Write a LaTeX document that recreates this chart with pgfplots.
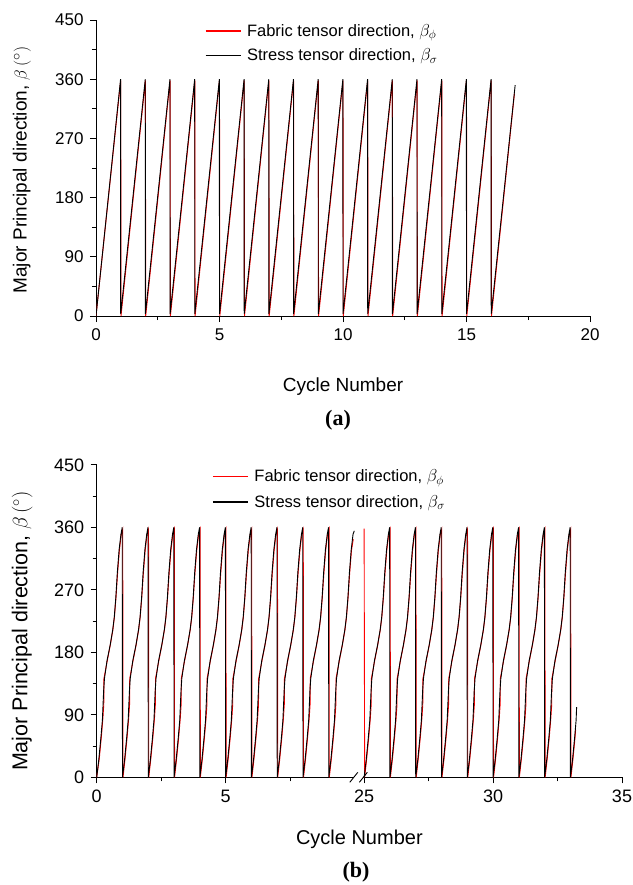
\documentclass[border=0pt]{standalone}
\usepackage{fontspec}
\setmainfont{Liberation Sans}
\newfontfamily\serifbf{Liberation Serif}
\usepackage{pgfplots}
\pgfplotsset{compat=1.18}
\pgfplotsset{
  common/.style={
    scale only axis,
    axis x line=bottom, axis y line=left,
    axis line style={-, line width=0.9pt, black},
    tick align=outside,
    major tick length=6pt, minor tick length=4pt,
    every tick/.style={line width=0.9pt, black},
    ymin=0, ymax=450,
    ytick={0,90,180,270,360,450},
    minor ytick={45,135,225,315,405},
    /pgf/number format/assume math mode=true,
    legend cell align=left,
    legend image code/.code={\draw[##1, line width=1.3pt] (0pt,0pt) -- (35pt,0pt); \path (39pt,0pt);},
  },
}
\begin{document}
\begin{tikzpicture}
\useasboundingbox (0pt,0pt) rectangle (632pt,-885pt);
% ---------------- panel (a)
\begin{axis}[common,
  at={(96pt,-316pt)}, anchor=south west,
  width=494pt, height=296pt,
  xmin=0, xmax=20,
  xtick={0,5,10,15,20}, minor xtick={2.5,7.5,12.5,17.5},
  tick label style={font=\fontsize{17}{19}\selectfont},
  yticklabel style={xshift=-3pt},
  xticklabel style={yshift=-3pt},
  xlabel={Cycle Number},
  ylabel={Major Principal direction, $\beta\,(^\circ)$},
  label style={font=\fontsize{19}{22}\selectfont},
  xlabel style={at={(axis description cs:0.5,-0.239)}, anchor=center},
  ylabel style={at={(axis description cs:-0.15,0.493)}, anchor=center},
  legend style={draw=none, fill=none, at={(axis description cs:0.214,1.0)}, anchor=north west,
    font=\fontsize{16.5}{19}\selectfont, row sep=7pt},
]
\addplot[red, line width=0.9pt] coordinates {
(0,0) (1.0,358) (1.012,0) (2.0,358) (2.012,0) (3.0,358) (3.012,0) (4.0,358) (4.012,0) (5.0,358)
(5.012,0) (6.0,358) (6.012,0) (7.0,358) (7.012,0) (8.0,358) (8.012,0) (9.0,358) (9.012,0) (10.0,358)
(10.012,0) (11.0,358) (11.012,0) (12.0,358) (12.012,0) (13.0,358) (13.012,0) (14.0,358) (14.012,0) (15.0,358)
(15.012,0) (16.0,358) (16.012,0) (16.94,338)
};
\addlegendentry{Fabric tensor direction, $\beta_{\phi}$}
\addplot[black, line width=0.9pt] coordinates {
(0,0) (0.995,360) (1,3) (1.995,360) (2,3) (2.995,360) (3,3) (3.995,360) (4,3) (4.995,360)
(5,3) (5.995,360) (6,3) (6.995,360) (7,3) (7.995,360) (8,3) (8.995,360) (9,3) (9.995,360)
(10,3) (10.995,360) (11,3) (11.995,360) (12,3) (12.995,360) (13,3) (13.995,360) (14,3) (14.995,360)
(15,3) (15.995,360) (16,3) (16.97,351)
};
\addlegendentry{Stress tensor direction, $\beta_{\sigma}$}
\end{axis}
% ---------------- panel (b)
\begin{axis}[common,
  at={(96.7pt,-777.3pt)}, anchor=south west,
  width=525.3pt, height=312.5pt,
  xmin=0, xmax=20.37,
  xtick={0,5,10.37,15.37,20.37}, xticklabels={0,5,25,30,35},
  minor xtick={2.5,7.5,12.87,17.87},
  tick label style={font=\fontsize{18}{20}\selectfont},
  yticklabel style={xshift=-3pt},
  xticklabel style={yshift=-3pt},
  xlabel={Cycle Number},
  ylabel={Major Principal direction, $\beta\,(^\circ)$},
  xlabel style={font=\fontsize{20}{23}\selectfont, at={(axis description cs:0.5,-0.2)}, anchor=center},
  ylabel style={font=\fontsize{21.5}{24}\selectfont, at={(axis description cs:-0.142,0.468)}, anchor=center},
  legend style={draw=none, fill=none, at={(axis description cs:0.214,0.998)}, anchor=north west,
    font=\fontsize{16.5}{19}\selectfont, row sep=8pt},
]
\addplot[red, line width=0.9pt] coordinates {
(0,0) (0.1,27) (0.18,58) (0.24,85) (0.275,105) (0.28,142) (0.32,150) (0.41,168) (0.53,191) (0.63,213) (0.69,232) (0.75,260) (0.81,294) (0.88,327) (0.95,349) (1.01,357)
(1.02,0) (1.1,27) (1.18,58) (1.24,85) (1.275,105) (1.28,142) (1.32,150) (1.41,168) (1.53,191) (1.63,213) (1.69,232) (1.75,260) (1.81,294) (1.88,327) (1.95,349) (2.01,357)
(2.02,0) (2.1,27) (2.18,58) (2.24,85) (2.275,105) (2.28,142) (2.32,150) (2.41,168) (2.53,191) (2.63,213) (2.69,232) (2.75,260) (2.81,294) (2.88,327) (2.95,349) (3.01,357)
(3.02,0) (3.1,27) (3.18,58) (3.24,85) (3.275,105) (3.28,142) (3.32,150) (3.41,168) (3.53,191) (3.63,213) (3.69,232) (3.75,260) (3.81,294) (3.88,327) (3.95,349) (4.01,357)
(4.02,0) (4.1,27) (4.18,58) (4.24,85) (4.275,105) (4.28,142) (4.32,150) (4.41,168) (4.53,191) (4.63,213) (4.69,232) (4.75,260) (4.81,294) (4.88,327) (4.95,349) (5.01,357)
(5.02,0) (5.1,27) (5.18,58) (5.24,85) (5.275,105) (5.28,142) (5.32,150) (5.41,168) (5.53,191) (5.63,213) (5.69,232) (5.75,260) (5.81,294) (5.88,327) (5.95,349) (6.01,357)
(6.02,0) (6.1,27) (6.18,58) (6.24,85) (6.275,105) (6.28,142) (6.32,150) (6.41,168) (6.53,191) (6.63,213) (6.69,232) (6.75,260) (6.81,294) (6.88,327) (6.95,349) (7.01,357)
(7.02,0) (7.1,27) (7.18,58) (7.24,85) (7.275,105) (7.28,142) (7.32,150) (7.41,168) (7.53,191) (7.63,213) (7.69,232) (7.75,260) (7.81,294) (7.88,327) (7.95,349) (8.01,357)
(8.02,0) (8.1,27) (8.18,58) (8.24,85) (8.275,105) (8.28,142) (8.32,150) (8.41,168) (8.53,191) (8.63,213) (8.69,232) (8.75,260) (8.81,294) (8.88,327) (8.95,349) (9.01,357)
(9.02,0) (9.1,27) (9.18,58) (9.24,85) (9.275,105) (9.28,142) (9.32,150) (9.41,168) (9.53,191) (9.63,213) (9.69,232) (9.75,260) (9.81,294) (9.88,327) (9.95,343)
};
\addlegendentry{Fabric tensor direction, $\beta_{\phi}$}
\addplot[black, line width=0.9pt] coordinates {
(0,0) (0.08,25) (0.16,56) (0.22,82) (0.27,125) (0.3,142) (0.4,168) (0.52,190) (0.62,212) (0.68,230) (0.74,258) (0.8,295) (0.87,328) (0.94,350) (0.99,360)
(1,0) (1.08,25) (1.16,56) (1.22,82) (1.27,125) (1.3,142) (1.4,168) (1.52,190) (1.62,212) (1.68,230) (1.74,258) (1.8,295) (1.87,328) (1.94,350) (1.99,360)
(2,0) (2.08,25) (2.16,56) (2.22,82) (2.27,125) (2.3,142) (2.4,168) (2.52,190) (2.62,212) (2.68,230) (2.74,258) (2.8,295) (2.87,328) (2.94,350) (2.99,360)
(3,0) (3.08,25) (3.16,56) (3.22,82) (3.27,125) (3.3,142) (3.4,168) (3.52,190) (3.62,212) (3.68,230) (3.74,258) (3.8,295) (3.87,328) (3.94,350) (3.99,360)
(4,0) (4.08,25) (4.16,56) (4.22,82) (4.27,125) (4.3,142) (4.4,168) (4.52,190) (4.62,212) (4.68,230) (4.74,258) (4.8,295) (4.87,328) (4.94,350) (4.99,360)
(5,0) (5.08,25) (5.16,56) (5.22,82) (5.27,125) (5.3,142) (5.4,168) (5.52,190) (5.62,212) (5.68,230) (5.74,258) (5.8,295) (5.87,328) (5.94,350) (5.99,360)
(6,0) (6.08,25) (6.16,56) (6.22,82) (6.27,125) (6.3,142) (6.4,168) (6.52,190) (6.62,212) (6.68,230) (6.74,258) (6.8,295) (6.87,328) (6.94,350) (6.99,360)
(7,0) (7.08,25) (7.16,56) (7.22,82) (7.27,125) (7.3,142) (7.4,168) (7.52,190) (7.62,212) (7.68,230) (7.74,258) (7.8,295) (7.87,328) (7.94,350) (7.99,360)
(8,0) (8.08,25) (8.16,56) (8.22,82) (8.27,125) (8.3,142) (8.4,168) (8.52,190) (8.62,212) (8.68,230) (8.74,258) (8.8,295) (8.87,328) (8.94,350) (8.99,360)
(9,0) (9.08,25) (9.16,56) (9.22,82) (9.27,125) (9.3,142) (9.4,168) (9.52,190) (9.62,212) (9.68,230) (9.74,258) (9.8,295) (9.87,328) (9.94,350) (9.99,355)
};
\addlegendentry{Stress tensor direction, $\beta_{\sigma}$}
\addplot[red, line width=0.9pt, forget plot, x filter/.expression={x-14.63}] coordinates {
(25,358) (25.02,0) (25.1,27) (25.18,58) (25.24,85) (25.275,105) (25.28,142) (25.32,150) (25.41,168) (25.53,191) (25.63,213) (25.69,232) (25.75,260) (25.81,294) (25.88,327) (25.95,349) (26.01,357)
(26.02,0) (26.1,27) (26.18,58) (26.24,85) (26.275,105) (26.28,142) (26.32,150) (26.41,168) (26.53,191) (26.63,213) (26.69,232) (26.75,260) (26.81,294) (26.88,327) (26.95,349) (27.01,357)
(27.02,0) (27.1,27) (27.18,58) (27.24,85) (27.275,105) (27.28,142) (27.32,150) (27.41,168) (27.53,191) (27.63,213) (27.69,232) (27.75,260) (27.81,294) (27.88,327) (27.95,349) (28.01,357)
(28.02,0) (28.1,27) (28.18,58) (28.24,85) (28.275,105) (28.28,142) (28.32,150) (28.41,168) (28.53,191) (28.63,213) (28.69,232) (28.75,260) (28.81,294) (28.88,327) (28.95,349) (29.01,357)
(29.02,0) (29.1,27) (29.18,58) (29.24,85) (29.275,105) (29.28,142) (29.32,150) (29.41,168) (29.53,191) (29.63,213) (29.69,232) (29.75,260) (29.81,294) (29.88,327) (29.95,349) (30.01,357)
(30.02,0) (30.1,27) (30.18,58) (30.24,85) (30.275,105) (30.28,142) (30.32,150) (30.41,168) (30.53,191) (30.63,213) (30.69,232) (30.75,260) (30.81,294) (30.88,327) (30.95,349) (31.01,357)
(31.02,0) (31.1,27) (31.18,58) (31.24,85) (31.275,105) (31.28,142) (31.32,150) (31.41,168) (31.53,191) (31.63,213) (31.69,232) (31.75,260) (31.81,294) (31.88,327) (31.95,349) (32.01,357)
(32.02,0) (32.1,27) (32.18,58) (32.24,85) (32.275,105) (32.28,142) (32.32,150) (32.41,168) (32.53,191) (32.63,213) (32.69,232) (32.75,260) (32.81,294) (32.88,327) (32.95,349) (33.01,357)
(33.02,0) (33.1,27) (33.18,58) (33.2,68)
};
\addplot[black, line width=0.9pt, forget plot, x filter/.expression={x-14.63}] coordinates {
(25,0) (25.08,25) (25.16,56) (25.22,82) (25.27,125) (25.3,142) (25.4,168) (25.52,190) (25.62,212) (25.68,230) (25.74,258) (25.8,295) (25.87,328) (25.94,350) (25.99,360)
(26,0) (26.08,25) (26.16,56) (26.22,82) (26.27,125) (26.3,142) (26.4,168) (26.52,190) (26.62,212) (26.68,230) (26.74,258) (26.8,295) (26.87,328) (26.94,350) (26.99,360)
(27,0) (27.08,25) (27.16,56) (27.22,82) (27.27,125) (27.3,142) (27.4,168) (27.52,190) (27.62,212) (27.68,230) (27.74,258) (27.8,295) (27.87,328) (27.94,350) (27.99,360)
(28,0) (28.08,25) (28.16,56) (28.22,82) (28.27,125) (28.3,142) (28.4,168) (28.52,190) (28.62,212) (28.68,230) (28.74,258) (28.8,295) (28.87,328) (28.94,350) (28.99,360)
(29,0) (29.08,25) (29.16,56) (29.22,82) (29.27,125) (29.3,142) (29.4,168) (29.52,190) (29.62,212) (29.68,230) (29.74,258) (29.8,295) (29.87,328) (29.94,350) (29.99,360)
(30,0) (30.08,25) (30.16,56) (30.22,82) (30.27,125) (30.3,142) (30.4,168) (30.52,190) (30.62,212) (30.68,230) (30.74,258) (30.8,295) (30.87,328) (30.94,350) (30.99,360)
(31,0) (31.08,25) (31.16,56) (31.22,82) (31.27,125) (31.3,142) (31.4,168) (31.52,190) (31.62,212) (31.68,230) (31.74,258) (31.8,295) (31.87,328) (31.94,350) (31.99,360)
(32,0) (32.08,25) (32.16,56) (32.22,82) (32.27,125) (32.3,142) (32.4,168) (32.52,190) (32.62,212) (32.68,230) (32.74,258) (32.8,295) (32.87,328) (32.94,350) (32.99,360)
(33,0) (33.08,25) (33.16,56) (33.22,82) (33.24,101)
};
\coordinate (brkA) at (axis cs:9.97,0);
\coordinate (brkB) at (axis cs:10.34,0);
\end{axis}
% axis break marks
\fill[white] ([shift={(0pt,-1.5pt)}]brkA) rectangle ([shift={(0pt,1.5pt)}]brkB);
\draw[line width=0.9pt] ([shift={(-4pt,-5pt)}]brkA) -- ([shift={(4pt,5pt)}]brkA);
\draw[line width=0.9pt] ([shift={(-4pt,-5pt)}]brkB) -- ([shift={(4pt,5pt)}]brkB);
% panel captions
\node[font=\fontsize{22}{25}\serifbf\bfseries] at (338pt,-420pt) {(a)};
\node[font=\fontsize{22}{25}\serifbf\bfseries] at (356pt,-872pt) {(b)};
\end{tikzpicture}
\end{document}
